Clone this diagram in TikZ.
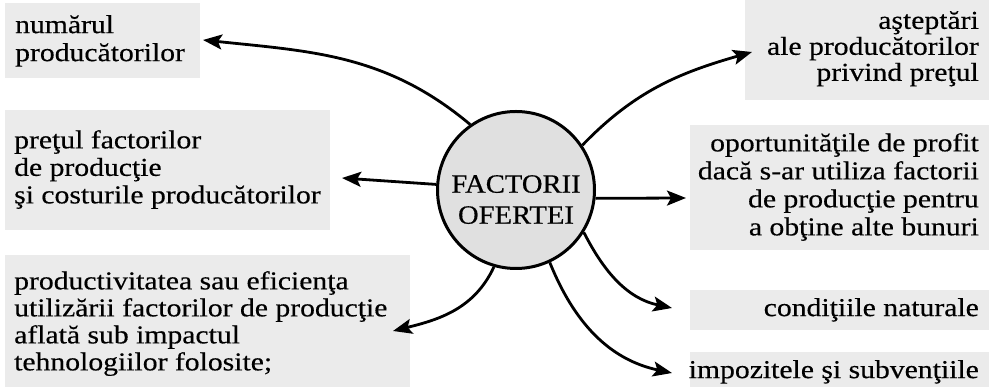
\documentclass[tikz,border=0pt]{standalone}
\usepackage{fontspec}
\setmainfont[FakeStretch=1.15,FakeBold=0.4]{Liberation Serif}
\newfontfamily\centerfont[FakeStretch=1.08,FakeBold=0.4]{Liberation Serif}
\usetikzlibrary{arrows.meta}
\tikzset{
  lbl/.style={inner sep=0pt, font=\fontsize{25.8}{#1}\selectfont},
  lbl/.default=27,
  arr/.style={line width=2.8pt, -{Stealth[length=19pt,width=15pt,inset=4pt]}},
  bgbox/.style={fill=black!8, draw=none},
  hub/.style={circle, draw=black, line width=3pt, fill=black!12, minimum size=157pt, inner sep=0pt}
}
\begin{document}
\begin{tikzpicture}[x=1pt,y=1pt]
\useasboundingbox (0,0) rectangle (989,387);
% stippled backgrounds
\fill[bgbox] (5,309) rectangle (200,384);
\fill[bgbox] (5,157) rectangle (330,277);
\fill[bgbox] (5,0) rectangle (410,132);
\fill[bgbox] (745,287) rectangle (989,387);
\fill[bgbox] (690,137) rectangle (989,262);
\fill[bgbox] (690,57) rectangle (989,97);
\fill[bgbox] (690,0) rectangle (989,35);
% hub
\node[hub] (c) at (516,197) {};
\node[inner sep=0pt, anchor=north, align=center, font=\centerfont\fontsize{26.5}{31}\selectfont] (ct) at (516,212) {FACTORII\\OFERTEI};
% labels
\node[lbl=28, anchor=north west, align=left] (n1) at (15,372) {numărul\\producătorilor};
\node[lbl=27.5, anchor=north west, align=left] (n2) at (14,257) {preţul factorilor\\de producţie\\şi costurile producătorilor};
\node[lbl=27, anchor=north west, align=left] (n3) at (14,116) {productivitatea sau eficienţa\\utilizării factorilor de producţie\\aflată sub impactul\\tehnologiilor folosite;};
\node[lbl=26, anchor=north east, align=right] (n4) at (979,376) {aşteptări\\ale producătorilor\\privind preţul};
\node[lbl=28, anchor=north east, align=right] (n5) at (979,254) {oportunităţile de profit\\dacă s-ar utiliza factorii\\de producţie pentru\\a obţine alte bunuri};
\node[lbl, anchor=north east, align=right] (n6) at (979,89) {condiţiile naturale};
\node[lbl, anchor=north east, align=right] (n7) at (979,27) {impozitele şi subvenţiile};
% arrow tips
\coordinate (t1) at (203,347);
\coordinate (t2) at (752,335);
\coordinate (t3) at (342,209);
\coordinate (t4) at (686,189);
\coordinate (t5) at (393,56);
\coordinate (t6) at (672,79);
\coordinate (t7) at (672,14);
% connectors
\draw[arr] (c.125) to[out=140, in=-6] (t1);
\draw[arr] (c.34) to[out=46, in=196] (t2);
\draw[arr] (c.176) -- (t3);
\draw[arr] (c.-6) -- (t4);
\draw[arr] (c.254) to[out=245, in=14] (t5);
\draw[arr] (c.-32) to[out=-63, in=168] (t6);
\draw[arr] (c.-65) to[out=-68, in=168] (t7);
\end{tikzpicture}
\end{document}
